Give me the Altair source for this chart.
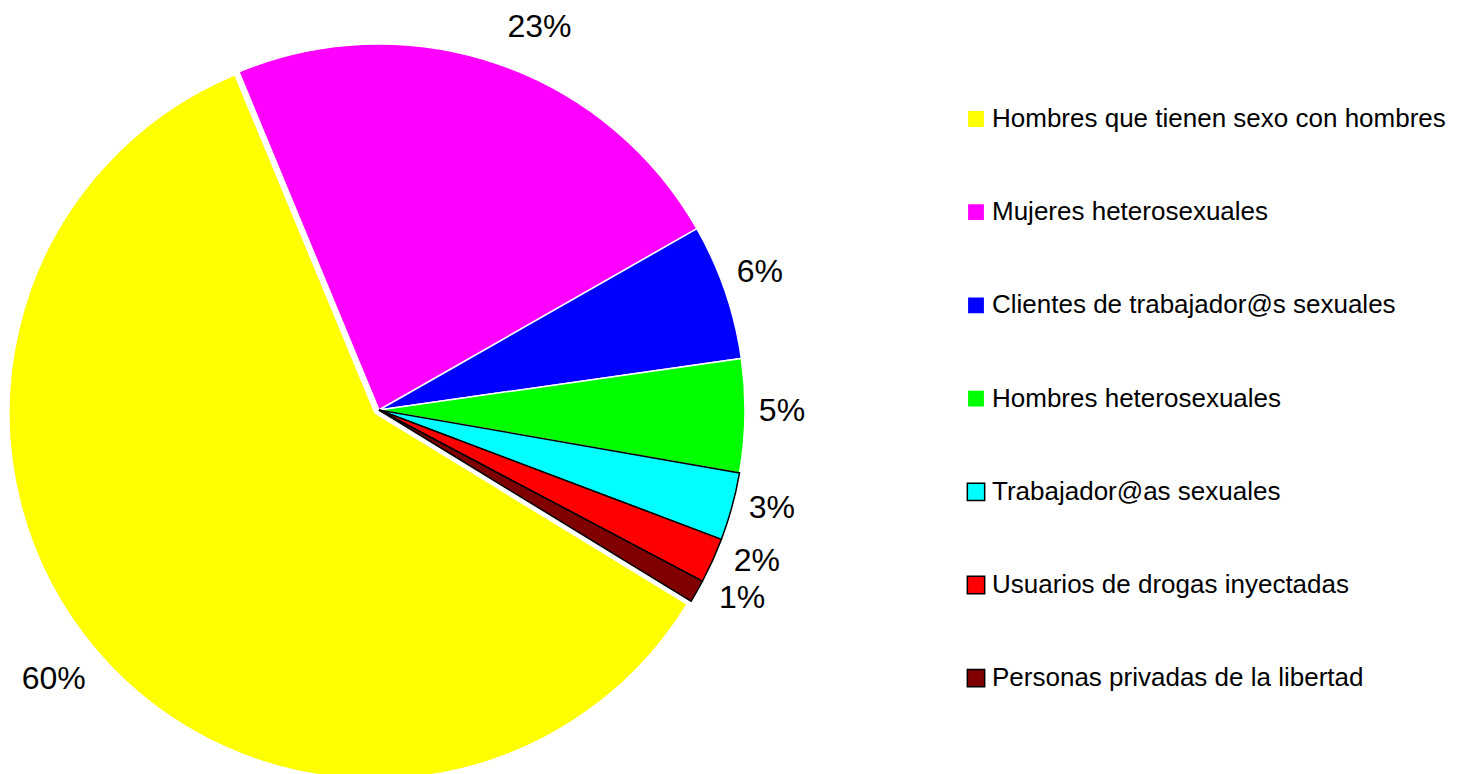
import altair as alt
import pandas as pd

grupos = [
    "Mujeres heterosexuales",
    "Clientes de trabajador@s sexuales",
    "Hombres heterosexuales",
    "Trabajador@as sexuales",
    "Usuarios de drogas inyectadas",
    "Personas privadas de la libertad",
    "Hombres que tienen sexo con hombres",
]
valores = [23, 6, 5, 3, 2, 1, 60]
orden = [0, 1, 2, 3, 4, 5, 6]

leyenda_orden = [
    "Hombres que tienen sexo con hombres",
    "Mujeres heterosexuales",
    "Clientes de trabajador@s sexuales",
    "Hombres heterosexuales",
    "Trabajador@as sexuales",
    "Usuarios de drogas inyectadas",
    "Personas privadas de la libertad",
]
colores = ["#FFFF00", "#FF00FF", "#0000FF", "#00FF00", "#00FFFF", "#FF0000", "#800000"]
bordes = ["#FFFFFF", "#FFFFFF", "#FFFFFF", "#FFFFFF", "#000000", "#000000", "#000000"]

df = pd.DataFrame({"grupo": grupos, "valor": valores, "orden": orden})

# label placement (style only): radius and small angular nudge per slice label
label_style = {
    "Mujeres heterosexuales": (415, 0.067),
    "Clientes de trabajador@s sexuales": (405, -0.0175),
    "Hombres heterosexuales": (403, -0.013),
    "Trabajador@as sexuales": (405, -0.0215),
    "Usuarios de drogas inyectadas": (407, -0.044),
    "Personas privadas de la libertad": (409, -0.040),
    "Hombres que tienen sexo con hombres": (422, 0.016),
}

FONT = "Liberation Sans"
start = -0.3927
theta_scale = alt.Scale(range=[start, start + 6.283185])
YELLOW = "Hombres que tienen sexo con hombres"
is_yellow = alt.datum.grupo == YELLOW
CX, CY = 371, 402

legend = alt.Legend(
    title=None,
    orient="none",
    legendX=955,
    legendY=98,
    symbolType="square",
    symbolSize=300,
    symbolStrokeWidth=1.5,
    labelFont=FONT,
    labelFontSize=26,
    labelColor="#000000",
    labelLimit=700,
    labelOffset=3,
    rowPadding=67.2,
    padding=0,
)

color = alt.Color("grupo:N", scale=alt.Scale(domain=leyenda_orden, range=colores), legend=legend)
stroke = alt.Stroke("grupo:N", scale=alt.Scale(domain=leyenda_orden, range=bordes), legend=legend)
theta = alt.Theta("valor:Q", stack=True, scale=theta_scale)
order = alt.Order("orden:Q")

base = alt.Chart(df)

arcs_main = base.mark_arc(outerRadius=366, strokeWidth=1.5).encode(
    theta=theta,
    order=order,
    color=color,
    stroke=stroke,
    opacity=alt.condition(is_yellow, alt.value(0), alt.value(1)),
    x=alt.value(CX),
    y=alt.value(CY),
)

arcs_yellow = base.mark_arc(outerRadius=366, strokeWidth=1.5).encode(
    theta=theta,
    order=order,
    color=color,
    stroke=stroke,
    opacity=alt.condition(is_yellow, alt.value(1), alt.value(0)),
    x=alt.value(CX - 4),
    y=alt.value(CY + 3),
)

text_base = base.transform_calculate(etiqueta="datum.valor + '%'")

label_layers = []
for g in grupos:
    r, off = label_style[g]
    label_layers.append(
        text_base.mark_text(
            font=FONT, fontSize=32, color="#000000", baseline="middle", align="center",
            radius=r, thetaOffset=off,
        ).encode(
            theta=theta,
            order=order,
            text="etiqueta:N",
            opacity=alt.condition(alt.datum.grupo == g, alt.value(1), alt.value(0)),
            x=alt.value(CX),
            y=alt.value(CY),
        )
    )

chart = alt.layer(arcs_main, arcs_yellow, *label_layers).properties(
    width=1443,
    height=766,
    padding=0,
    autosize="none",
).configure_view(stroke=None)

chart.save("out.html", embed_options={"renderer": "svg", "actions": False})
